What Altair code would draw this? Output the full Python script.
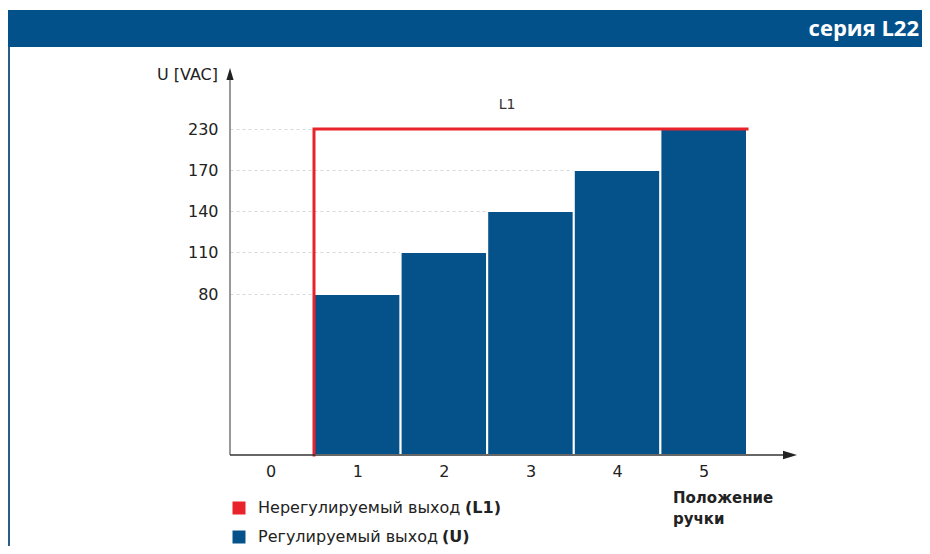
import altair as alt
import pandas as pd

# ---- data ----
positions = [0, 1, 2, 3, 4, 5]            # knob positions (x axis)
bar_positions = [1, 2, 3, 4, 5]
u_values = [80, 110, 140, 170, 230]       # regulated output U [VAC]
l1_value = 230                            # unregulated output L1 [VAC]
y_ticks = [80, 110, 140, 170, 230]
header_title = "серия L22"
y_title = "U [VAC]"
x_title = ["Положение", "ручки"]
legend_l1 = ("Нерегулируемый выход", "(L1)")
legend_u = ("Регулируемый выход", "(U)")

BLUE = "#05528a"
RED = "#e8232b"
FONT = "DejaVu Sans"

bars_df = pd.DataFrame({"pos": bar_positions, "u": u_values})
bars_df["lo"] = bars_df["pos"] - 0.5
bars_df["hi"] = bars_df["pos"] + 0.5
bars_df["base"] = 0

l1_df = pd.DataFrame({
    "pos": [bar_positions[0] - 0.5, bar_positions[0] - 0.5, bar_positions[-1] + 0.5],
    "u": [0, l1_value, l1_value],
    "order": [0, 1, 2],
})

# axis tick labels are evenly spaced (non-linear scale) -> piecewise scale
y_scale = alt.Scale(domain=[0] + y_ticks, range=[387, 226, 184, 143, 102, 61],
                    nice=False, zero=False)
x_scale = alt.Scale(domain=[positions[0] - 0.47, positions[-1] + 0.5], nice=False, zero=False)

x_axis = alt.Axis(values=positions, title=None, domain=False, ticks=False, grid=False,
                  labelFont=FONT, labelFontSize=16, labelColor="#222", labelPadding=8)
y_axis = alt.Axis(values=y_ticks, title=None, domain=False, ticks=False, grid=True,
                  gridDash=[3, 3], gridColor="#d8d8d8", gridWidth=1,
                  labelFont=FONT, labelFontSize=16, labelColor="#222", labelPadding=12)

dummy = alt.Data(values=[{"a": 1}])

bars = alt.Chart(bars_df).mark_rect(color=BLUE, stroke="white", strokeWidth=2).encode(
    x=alt.X("lo:Q", scale=x_scale, axis=x_axis),
    x2="hi:Q",
    y=alt.Y("u:Q", scale=y_scale, axis=y_axis),
    y2="base:Q",
)

l1_line = alt.Chart(l1_df).mark_line(color=RED, strokeWidth=3, strokeCap="square").encode(
    x=alt.X("pos:Q", scale=x_scale, axis=x_axis),
    y=alt.Y("u:Q", scale=y_scale, axis=y_axis),
    order="order:Q",
)

header = alt.Chart(dummy).mark_rect(color="#03518a").encode(
    x=alt.value(-223), x2=alt.value(692), y=alt.value(-58), y2=alt.value(-21))
header_text = alt.Chart(dummy).mark_text(
    text=header_title, align="right", baseline="middle", font="Open Sans",
    fontWeight="bold", fontSize=22, color="white").encode(x=alt.value(689), y=alt.value(-39))
left_border = alt.Chart(dummy).mark_rule(color="#2a5d8c", strokeWidth=2).encode(
    x=alt.value(-221), y=alt.value(-21), y2=alt.value(480))

y_axis_line = alt.Chart(dummy).mark_rule(color="#777", strokeWidth=1.5).encode(
    x=alt.value(0), y=alt.value(6), y2=alt.value(387))
x_axis_line = alt.Chart(dummy).mark_rule(color="#333", strokeWidth=1.5).encode(
    x=alt.value(0), x2=alt.value(558), y=alt.value(387))
x_arrow = alt.Chart(dummy).mark_point(
    shape="M-1,-0.6L1,0L-1,0.6Z", filled=True, color="#222", opacity=1, size=196).encode(
    x=alt.value(560), y=alt.value(387))
y_arrow = alt.Chart(dummy).mark_point(
    shape="M0,-1L0.6,1L-0.6,1Z", filled=True, color="#222", opacity=1, size=144).encode(
    x=alt.value(0), y=alt.value(6))

y_title_t = alt.Chart(dummy).mark_text(
    text=y_title, align="right", baseline="middle", font=FONT, fontSize=16, color="#222").encode(
    x=alt.value(-12), y=alt.value(7))
l1_label = alt.Chart(dummy).mark_text(
    text="L1", align="center", baseline="middle", font=FONT, fontSize=14, color="#333").encode(
    x=alt.value(277), y=alt.value(37))
x_title_t = alt.Chart(dummy).mark_text(
    text=x_title, align="left", baseline="top", font=FONT, fontSize=15, fontWeight="bold",
    color="#222", lineHeight=21).encode(x=alt.value(443), y=alt.value(423))

leg_sq1 = alt.Chart(dummy).mark_square(color=RED, size=169, opacity=1).encode(
    x=alt.value(9), y=alt.value(440))
leg_sq2 = alt.Chart(dummy).mark_square(color=BLUE, size=169, opacity=1).encode(
    x=alt.value(9), y=alt.value(469))
leg_t1 = alt.Chart(dummy).mark_text(
    text=legend_l1[0], align="left", baseline="middle", font=FONT, fontSize=16, color="#222").encode(
    x=alt.value(28), y=alt.value(440))
leg_t1b = alt.Chart(dummy).mark_text(
    text=legend_l1[1], align="left", baseline="middle", font=FONT, fontSize=16,
    fontWeight="bold", color="#222").encode(x=alt.value(235), y=alt.value(440))
leg_t2 = alt.Chart(dummy).mark_text(
    text=legend_u[0], align="left", baseline="middle", font=FONT, fontSize=16, color="#222").encode(
    x=alt.value(28), y=alt.value(469))
leg_t2b = alt.Chart(dummy).mark_text(
    text=legend_u[1], align="left", baseline="middle", font=FONT, fontSize=16,
    fontWeight="bold", color="#222").encode(x=alt.value(212), y=alt.value(469))

chart = alt.layer(
    header, header_text, left_border,
    bars, l1_line,
    y_axis_line, x_axis_line, x_arrow, y_arrow,
    y_title_t, l1_label, x_title_t,
    leg_sq1, leg_sq2, leg_t1, leg_t1b, leg_t2, leg_t2b,
).properties(
    width=517, height=387,
    autosize=alt.AutoSizeParams(type="none"),
    padding={"left": 222, "top": 60, "right": 175, "bottom": 91},
    background="white",
).configure_view(stroke=None)

chart.save("out.html", embed_options={"renderer": "svg", "actions": False})
